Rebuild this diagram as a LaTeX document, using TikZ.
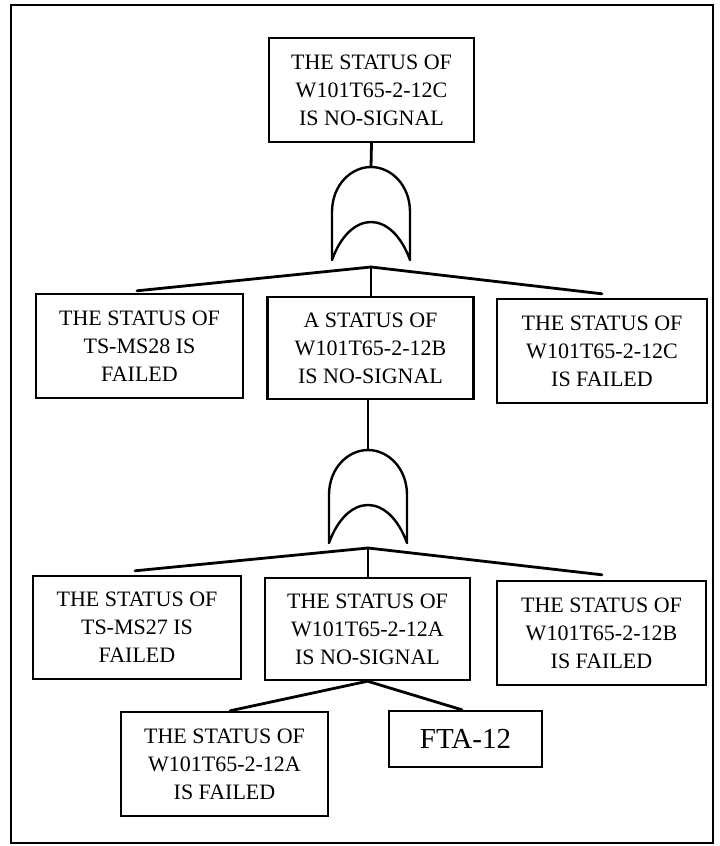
\documentclass[tikz,border=0pt]{standalone}
\usepackage{fontspec}
\setmainfont{Liberation Serif}
\begin{document}
\begin{tikzpicture}[x=1pt,y=-1pt,
  box/.style={draw,line width=2.4pt,inner sep=0pt,align=center,font=\fontsize{22}{28}\selectfont},
  conn/.style={line width=2.8pt,line cap=round},
  gateline/.style={line width=2.4pt,line join=round},
  orgate/.pic={\draw[gateline] (-39,93) -- (-39,45) .. controls (-39,18) and (-20,0) .. (0,0) .. controls (20,0) and (39,18) .. (39,45) -- (39,93) .. controls (30,68) and (15,55) .. (0,55) .. controls (-15,55) and (-30,68) .. (-39,93) -- cycle;}]
\useasboundingbox (0,0) rectangle (720,846);
\fill[white] (0,0) rectangle (720,846);
\draw[line width=2.6pt] (11,5) rectangle (713,843);

% top event
\node[box,minimum width=205pt,minimum height=104pt] (top) at (371.5,90) {THE STATUS OF\\W101T65-2-12C\\IS NO-SIGNAL};

% gate 1
\coordinate (g1) at (371,167);
\coordinate (b1) at (371,267);
\pic at (g1) {orgate};

% row 2
\node[box,minimum width=207pt,minimum height=104pt] (l2) at (139.5,346) {THE STATUS OF\\TS-MS28 IS\\FAILED};
\node[box,minimum width=206pt,minimum height=102pt] (m2) at (370.5,348) {A STATUS OF\\W101T65-2-12B\\IS NO-SIGNAL};
\node[box,minimum width=210pt,minimum height=104pt] (r2) at (602,351) {THE STATUS OF\\W101T65-2-12C\\IS FAILED};

% gate 2
\coordinate (g2) at (368,450);
\coordinate (b2) at (368,548);
\pic at (g2) {orgate};

% row 3
\node[box,minimum width=208pt,minimum height=103pt] (l3) at (137,627.5) {THE STATUS OF\\TS-MS27 IS\\FAILED};
\node[box,minimum width=205pt,minimum height=102pt] (m3) at (367.5,629) {THE STATUS OF\\W101T65-2-12A\\IS NO-SIGNAL};
\node[box,minimum width=209pt,minimum height=104pt] (r3) at (601.5,633) {THE STATUS OF\\W101T65-2-12B\\IS FAILED};

% row 4
\node[box,minimum width=207pt,minimum height=104pt] (bl) at (224.5,764) {THE STATUS OF\\W101T65-2-12A\\IS FAILED};
\node[box,minimum width=153pt,minimum height=56pt,font=\fontsize{29}{32}\selectfont] (fta) at (465.5,739) {FTA-12};

% connectors
\draw[conn] (top.south) -- (g1);
\draw[conn] ([xshift=-2.5pt,yshift=2pt]l2.north) -- (b1) -- ([yshift=4pt]r2.north);
\draw[conn] (b1) -- (b1 |- m2.north);
\draw[conn] (m2.south -| g2) -- (g2);
\draw[conn] ([xshift=-2pt,yshift=4pt]l3.north) -- (b2) -- ([xshift=0.5pt,yshift=5pt]r3.north);
\draw[conn] (b2) -- (b2 |- m3.north);
\draw[conn] (bl.north -| 230,0) -- (m3.south) -- (fta.north -| 462,0);
\end{tikzpicture}
\end{document}
